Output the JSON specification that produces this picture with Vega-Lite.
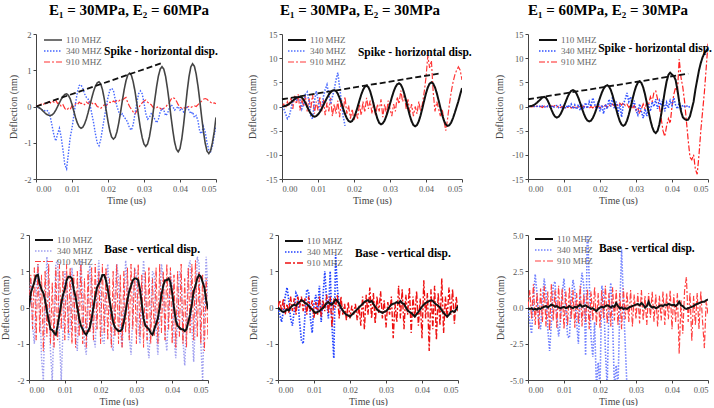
{
"$schema": "https://vega.github.io/schema/vega-lite/v6.json",
"padding": {"left": 0, "top": 3, "right": 0, "bottom": 0},
"config": {
  "font": "Liberation Serif",
  "view": {"stroke": null},
  "axis": {"grid": false, "labelFont": "Liberation Serif", "labelFontSize": 8.5, "labelColor": "#555", "titleFont": "Liberation Serif", "titleFontSize": 10, "titleFontWeight": "normal", "titleColor": "#444", "domainColor": "#444", "tickColor": "#444", "tickSize": 3, "labelPadding": 2},
  "axisX": {"titlePadding": 2.5},
  "legend": {"orient": "top-left", "symbolType": "M-1.8,0H1.8", "symbolSize": 100, "labelFont": "Liberation Serif", "labelFontSize": 9, "labelColor": "#666", "rowPadding": -1.5, "padding": 0, "labelOffset": 7},
  "title": {"font": "Liberation Serif", "fontSize": 15, "fontWeight": "bold", "color": "#000", "offset": 12}
},
"datasets": {
"trend": [{"p":"A","t":0,"v":0},{"p":"A","t":0.035,"v":1.2},{"p":"B","t":0,"v":1.5},{"p":"B","t":0.0435,"v":6.8},{"p":"C","t":0,"v":1.5},{"p":"C","t":0.0445,"v":6.8}],
"notes": [{"p":"A","t":0.0347,"v":1.5,"label":"Spike - horizontal disp."},{"p":"B","t":0.0369,"v":11.1,"label":"Spike - horizontal disp."},{"p":"C","t":0.0353,"v":11.9,"label":"Spike - horizontal disp."},{"p":"D","t":0.0344,"v":1.58,"label":"Base - vertical disp."},{"p":"E","t":0.0347,"v":1.47,"label":"Base - vertical disp."},{"p":"F","t":0.033,"v":4.03,"label":"Base - vertical disp."}],
"A": [
{"t":0,"f110":0,"f340":0,"f910":0},
{"t":0.0005,"f110":-0.01,"f340":-0.02,"f910":0.02},
{"t":0.001,"f110":-0.04,"f340":-0.05,"f910":0.04},
{"t":0.0015,"f110":-0.08,"f340":-0.08,"f910":0.07},
{"t":0.002,"f110":-0.13,"f340":-0.1,"f910":0.05},
{"t":0.0025,"f110":-0.18,"f340":-0.12,"f910":0.1},
{"t":0.003,"f110":-0.22,"f340":-0.1,"f910":0.08},
{"t":0.0035,"f110":-0.24,"f340":-0.15,"f910":0.13},
{"t":0.004,"f110":-0.25,"f340":-0.3,"f910":0.1},
{"t":0.0045,"f110":-0.23,"f340":-0.55,"f910":0.15},
{"t":0.005,"f110":-0.18,"f340":-0.8,"f910":0.12},
{"t":0.0055,"f110":-0.1,"f340":-0.95,"f910":0.17},
{"t":0.006,"f110":0,"f340":-0.75,"f910":0.08},
{"t":0.0065,"f110":0.1,"f340":-0.6,"f910":0.1},
{"t":0.007,"f110":0.2,"f340":-0.85,"f910":0},
{"t":0.0075,"f110":0.28,"f340":-1.2,"f910":0.05},
{"t":0.008,"f110":0.33,"f340":-1.6,"f910":-0.05},
{"t":0.0085,"f110":0.35,"f340":-1.72,"f910":-0.1},
{"t":0.009,"f110":0.31,"f340":-1.3,"f910":-0.05},
{"t":0.0095,"f110":0.21,"f340":-0.85,"f910":-0.08},
{"t":0.01,"f110":0.06,"f340":-0.6,"f910":0.02},
{"t":0.0105,"f110":-0.13,"f340":-0.25,"f910":0},
{"t":0.011,"f110":-0.31,"f340":0.1,"f910":0.08},
{"t":0.0115,"f110":-0.46,"f340":0.4,"f910":0.05},
{"t":0.012,"f110":-0.56,"f340":0.58,"f910":0.12},
{"t":0.0125,"f110":-0.6,"f340":0.6,"f910":0.08},
{"t":0.013,"f110":-0.57,"f340":0.5,"f910":0.1},
{"t":0.0135,"f110":-0.48,"f340":0.35,"f910":0.05},
{"t":0.014,"f110":-0.34,"f340":0.25,"f910":0.12},
{"t":0.0145,"f110":-0.16,"f340":0.2,"f910":0.08},
{"t":0.015,"f110":0.04,"f340":0.05,"f910":0.15},
{"t":0.0155,"f110":0.24,"f340":-0.2,"f910":0.1},
{"t":0.016,"f110":0.42,"f340":-0.45,"f910":0.05},
{"t":0.0165,"f110":0.56,"f340":-0.75,"f910":0.08},
{"t":0.017,"f110":0.65,"f340":-1,"f910":0},
{"t":0.0175,"f110":0.68,"f340":-1.08,"f910":-0.02},
{"t":0.018,"f110":0.62,"f340":-0.9,"f910":-0.05},
{"t":0.0185,"f110":0.45,"f340":-0.6,"f910":0},
{"t":0.019,"f110":0.19,"f340":-0.3,"f910":0.05},
{"t":0.0195,"f110":-0.11,"f340":0,"f910":0.02},
{"t":0.02,"f110":-0.41,"f340":0.25,"f910":0.08},
{"t":0.0205,"f110":-0.67,"f340":0.45,"f910":0.12},
{"t":0.021,"f110":-0.84,"f340":0.5,"f910":0.1},
{"t":0.0215,"f110":-0.9,"f340":0.45,"f910":0.15},
{"t":0.022,"f110":-0.85,"f340":0.2,"f910":0.12},
{"t":0.0225,"f110":-0.69,"f340":0,"f910":0.18},
{"t":0.023,"f110":-0.45,"f340":-0.15,"f910":0.15},
{"t":0.0235,"f110":-0.15,"f340":-0.25,"f910":0.2},
{"t":0.024,"f110":0.17,"f340":-0.2,"f910":0.18},
{"t":0.0245,"f110":0.47,"f340":-0.3,"f910":0.22},
{"t":0.025,"f110":0.71,"f340":-0.35,"f910":0.25},
{"t":0.0255,"f110":0.87,"f340":-0.45,"f910":0.1},
{"t":0.026,"f110":0.92,"f340":-0.6,"f910":0},
{"t":0.0265,"f110":0.86,"f340":-0.65,"f910":-0.08},
{"t":0.027,"f110":0.68,"f340":-0.5,"f910":-0.15},
{"t":0.0275,"f110":0.42,"f340":-0.2,"f910":-0.2},
{"t":0.028,"f110":0.09,"f340":0.1,"f910":-0.12},
{"t":0.0285,"f110":-0.27,"f340":0.35,"f910":-0.05},
{"t":0.029,"f110":-0.6,"f340":0.43,"f910":0.05},
{"t":0.0295,"f110":-0.86,"f340":0.35,"f910":0.1},
{"t":0.03,"f110":-1.04,"f340":0.1,"f910":0.15},
{"t":0.0305,"f110":-1.1,"f340":-0.2,"f910":0.18},
{"t":0.031,"f110":-1.03,"f340":-0.35,"f910":0.12},
{"t":0.0315,"f110":-0.84,"f340":-0.3,"f910":0.08},
{"t":0.032,"f110":-0.55,"f340":-0.2,"f910":0.05},
{"t":0.0325,"f110":-0.19,"f340":-0.25,"f910":-0.02},
{"t":0.033,"f110":0.19,"f340":-0.35,"f910":-0.05},
{"t":0.0335,"f110":0.55,"f340":-0.45,"f910":-0.03},
{"t":0.034,"f110":0.84,"f340":-0.35,"f910":0},
{"t":0.0345,"f110":1.03,"f340":-0.15,"f910":-0.05},
{"t":0.035,"f110":1.1,"f340":-0.05,"f910":-0.08},
{"t":0.0355,"f110":1.03,"f340":-0.1,"f910":-0.05},
{"t":0.036,"f110":0.83,"f340":-0.25,"f910":-0.02},
{"t":0.0365,"f110":0.51,"f340":-0.2,"f910":0.05},
{"t":0.037,"f110":0.13,"f340":-0.05,"f910":0.1},
{"t":0.0375,"f110":-0.28,"f340":0.05,"f910":0.2},
{"t":0.038,"f110":-0.66,"f340":0,"f910":0.25},
{"t":0.0385,"f110":-0.98,"f340":-0.1,"f910":0.22},
{"t":0.039,"f110":-1.18,"f340":-0.05,"f910":0.15},
{"t":0.0395,"f110":-1.25,"f340":0,"f910":0.05},
{"t":0.04,"f110":-1.16,"f340":-0.1,"f910":-0.02},
{"t":0.0405,"f110":-0.89,"f340":-0.05,"f910":-0.05},
{"t":0.041,"f110":-0.5,"f340":-0.15,"f910":-0.03},
{"t":0.0415,"f110":-0.04,"f340":-0.1,"f910":-0.05},
{"t":0.042,"f110":0.43,"f340":-0.02,"f910":-0.02},
{"t":0.0425,"f110":0.82,"f340":-0.1,"f910":0},
{"t":0.043,"f110":1.09,"f340":-0.2,"f910":-0.03},
{"t":0.0435,"f110":1.18,"f340":-0.15,"f910":0},
{"t":0.044,"f110":1.11,"f340":-0.3,"f910":0.02},
{"t":0.0445,"f110":0.89,"f340":-0.25,"f910":0},
{"t":0.045,"f110":0.56,"f340":-0.4,"f910":0.05},
{"t":0.0455,"f110":0.16,"f340":-0.7,"f910":0.1},
{"t":0.046,"f110":-0.28,"f340":-0.75,"f910":0.15},
{"t":0.0465,"f110":-0.68,"f340":-0.55,"f910":0.2},
{"t":0.047,"f110":-1.01,"f340":-0.7,"f910":0.22},
{"t":0.0475,"f110":-1.23,"f340":-1,"f910":0.2},
{"t":0.048,"f110":-1.3,"f340":-1.2,"f910":0.15},
{"t":0.0485,"f110":-1.22,"f340":-1.25,"f910":0.12},
{"t":0.049,"f110":-1,"f340":-1.1,"f910":0.08},
{"t":0.0495,"f110":-0.7,"f340":-0.8,"f910":0.1},
{"t":0.05,"f110":-0.3,"f340":-0.55,"f910":0.08}
],
"B": [
{"t":0,"f110":0,"f340":0,"f910":0},
{"t":0.0005,"f110":0.05,"f340":-0.5,"f910":0.5},
{"t":0.001,"f110":0.15,"f340":-1.5,"f910":-0.3},
{"t":0.0015,"f110":0.3,"f340":-2.5,"f910":1},
{"t":0.002,"f110":0.55,"f340":-2,"f910":0.2},
{"t":0.0025,"f110":0.85,"f340":-0.5,"f910":1.8},
{"t":0.003,"f110":1.2,"f340":1,"f910":-0.5},
{"t":0.0035,"f110":1.5,"f340":1.8,"f910":2.2},
{"t":0.004,"f110":1.8,"f340":1.2,"f910":0.5},
{"t":0.0045,"f110":1.95,"f340":2.2,"f910":2.5},
{"t":0.005,"f110":2,"f340":1.5,"f910":-0.8},
{"t":0.0055,"f110":1.84,"f340":-0.5,"f910":1.5},
{"t":0.006,"f110":1.4,"f340":0.5,"f910":0},
{"t":0.0065,"f110":0.74,"f340":2.5,"f910":2.2},
{"t":0.007,"f110":-0.05,"f340":3,"f910":-1},
{"t":0.0075,"f110":-0.84,"f340":1,"f910":1.8},
{"t":0.008,"f110":-1.5,"f340":-2,"f910":-0.5},
{"t":0.0085,"f110":-1.94,"f340":-2.6,"f910":2.5},
{"t":0.009,"f110":-2.1,"f340":1,"f910":-1.5},
{"t":0.0095,"f110":-1.99,"f340":3.2,"f910":1},
{"t":0.01,"f110":-1.66,"f340":1.5,"f910":-0.8},
{"t":0.0105,"f110":-1.15,"f340":-1,"f910":2},
{"t":0.011,"f110":-0.49,"f340":-0.5,"f910":-1.2},
{"t":0.0115,"f110":0.26,"f340":2,"f910":1.5},
{"t":0.012,"f110":1.04,"f340":3.5,"f910":-1.8},
{"t":0.0125,"f110":1.79,"f340":4.5,"f910":0.8},
{"t":0.013,"f110":2.45,"f340":2.5,"f910":-1},
{"t":0.0135,"f110":2.96,"f340":0.5,"f910":1.8},
{"t":0.014,"f110":3.29,"f340":2,"f910":-2},
{"t":0.0145,"f110":3.4,"f340":3.5,"f910":0.5},
{"t":0.015,"f110":3.2,"f340":5.5,"f910":-1.5},
{"t":0.0155,"f110":2.63,"f340":7,"f910":1.2},
{"t":0.016,"f110":1.75,"f340":4,"f910":-2.2},
{"t":0.0165,"f110":0.67,"f340":1,"f910":1.5},
{"t":0.017,"f110":-0.47,"f340":-2,"f910":-1},
{"t":0.0175,"f110":-1.55,"f340":-4,"f910":2},
{"t":0.018,"f110":-2.43,"f910":-1.5},
{"t":0.0185,"f110":-3,"f910":0.2},
{"t":0.019,"f110":-3.2,"f910":-2.5},
{"t":0.0195,"f110":-2.98,"f910":-0.5},
{"t":0.02,"f110":-2.32,"f910":-3},
{"t":0.0205,"f110":-1.33,"f910":-1},
{"t":0.021,"f110":-0.1,"f910":-2.5},
{"t":0.0215,"f110":1.2,"f910":0.5},
{"t":0.022,"f110":2.43,"f910":-1.8},
{"t":0.0225,"f110":3.42,"f910":1},
{"t":0.023,"f110":4.08,"f910":-1.2},
{"t":0.0235,"f110":4.3,"f910":1.8},
{"t":0.024,"f110":4,"f910":-0.5},
{"t":0.0245,"f110":3.13,"f910":1.2},
{"t":0.025,"f110":1.83,"f910":-1.5},
{"t":0.0255,"f110":0.3,"f910":0.8},
{"t":0.026,"f110":-1.23,"f910":-2},
{"t":0.0265,"f110":-2.53,"f910":0.5},
{"t":0.027,"f110":-3.4,"f910":-1},
{"t":0.0275,"f110":-3.7,"f910":1.5},
{"t":0.028,"f110":-3.49,"f910":-2.2},
{"t":0.0285,"f110":-2.89,"f910":0.5},
{"t":0.029,"f110":-1.95,"f910":-1.5},
{"t":0.0295,"f110":-0.76,"f910":1.2},
{"t":0.03,"f110":0.55,"f910":-0.5},
{"t":0.0305,"f110":1.86,"f910":-2},
{"t":0.031,"f110":3.05,"f910":0.5},
{"t":0.0315,"f110":3.99,"f910":-1},
{"t":0.032,"f110":4.59,"f910":2},
{"t":0.0325,"f110":4.8,"f910":0.5},
{"t":0.033,"f110":4.53,"f910":3.3},
{"t":0.0335,"f110":3.76,"f910":1},
{"t":0.034,"f110":2.58,"f910":2.5},
{"t":0.0345,"f110":1.12,"f910":-0.5},
{"t":0.035,"f110":-0.42,"f910":1.5},
{"t":0.0355,"f110":-1.88,"f910":-1.5},
{"t":0.036,"f110":-3.06,"f910":0.5},
{"t":0.0365,"f110":-3.83,"f910":-2},
{"t":0.037,"f110":-4.1,"f910":0},
{"t":0.0375,"f110":-3.83,"f910":-1.5},
{"t":0.038,"f110":-3.04,"f910":1},
{"t":0.0385,"f110":-1.83,"f910":-1},
{"t":0.039,"f110":-0.34,"f910":0.5},
{"t":0.0395,"f110":1.24,"f910":3},
{"t":0.04,"f110":2.73,"f910":6},
{"t":0.0405,"f110":3.94,"f910":10.5},
{"t":0.041,"f110":4.73,"f910":8},
{"t":0.0415,"f110":5,"f910":9.5},
{"t":0.042,"f110":4.73,"f910":3},
{"t":0.0425,"f110":3.95,"f910":-1},
{"t":0.043,"f110":2.75,"f910":1},
{"t":0.0435,"f110":1.28,"f910":-0.5},
{"t":0.044,"f110":-0.28,"f910":-2},
{"t":0.0445,"f110":-1.75,"f910":-0.5},
{"t":0.045,"f110":-2.95,"f910":-3},
{"t":0.0455,"f110":-3.73,"f910":-5},
{"t":0.046,"f110":-4,"f910":-2.5},
{"t":0.0465,"f110":-3.85,"f910":0.5},
{"t":0.047,"f110":-3.3,"f910":3},
{"t":0.0475,"f110":-2.4,"f910":5},
{"t":0.048,"f110":-1.3,"f910":6.5},
{"t":0.0485,"f110":-0.1,"f910":7.5},
{"t":0.049,"f110":1.1,"f910":8.2},
{"t":0.0495,"f110":2.5,"f910":7.5},
{"t":0.05,"f110":3.8,"f910":5.5}
],
"C": [
{"t":0,"f110":0,"f340":0,"f910":0},
{"t":0.0005,"f110":0.05,"f340":0,"f910":0},
{"t":0.001,"f110":0.1,"f340":0.1,"f910":-0.1},
{"t":0.0015,"f110":0.25,"f340":-0.1,"f910":0},
{"t":0.002,"f110":0.5,"f340":0.1,"f910":-0.1},
{"t":0.0025,"f110":0.8,"f340":0,"f910":0.1},
{"t":0.003,"f110":1.15,"f340":0.2,"f910":-0.1},
{"t":0.0035,"f110":1.5,"f340":-0.1,"f910":0},
{"t":0.004,"f110":1.85,"f340":0.1,"f910":-0.2},
{"t":0.0045,"f110":2,"f340":0,"f910":0.1},
{"t":0.005,"f110":1.79,"f340":-0.2,"f910":-0.1},
{"t":0.0055,"f110":1.19,"f340":0.1,"f910":0},
{"t":0.006,"f110":0.33,"f340":-0.1,"f910":-0.2},
{"t":0.0065,"f110":-0.63,"f340":0.2,"f910":0.1},
{"t":0.007,"f110":-1.49,"f340":-0.3,"f910":0},
{"t":0.0075,"f110":-2.09,"f340":0.1,"f910":0.2},
{"t":0.008,"f110":-2.3,"f340":0.2,"f910":-0.1},
{"t":0.0085,"f110":-2.13,"f340":-0.2,"f910":0.1},
{"t":0.009,"f110":-1.63,"f340":0.3,"f910":-0.2},
{"t":0.0095,"f110":-0.88,"f340":-0.3,"f910":0},
{"t":0.01,"f110":0.05,"f340":0.2,"f910":-0.3},
{"t":0.0105,"f110":1.05,"f340":-0.4,"f910":-0.1},
{"t":0.011,"f110":1.98,"f340":0.3,"f910":-0.2},
{"t":0.0115,"f110":2.73,"f340":-0.2,"f910":0},
{"t":0.012,"f110":3.23,"f340":0.5,"f910":-0.3},
{"t":0.0125,"f110":3.4,"f340":-0.5,"f910":-0.1},
{"t":0.013,"f110":3.21,"f340":0.3,"f910":-0.2},
{"t":0.0135,"f110":2.64,"f340":-0.6,"f910":0.1},
{"t":0.014,"f110":1.78,"f340":0.4,"f910":-0.3},
{"t":0.0145,"f110":0.72,"f340":-0.8,"f910":0},
{"t":0.015,"f110":-0.42,"f340":0.2,"f910":-0.2},
{"t":0.0155,"f110":-1.48,"f340":-0.5,"f910":0.1},
{"t":0.016,"f110":-2.34,"f340":0.8,"f910":-0.3},
{"t":0.0165,"f110":-2.91,"f340":-0.4,"f910":-0.1},
{"t":0.017,"f110":-3.1,"f340":1,"f910":-0.4},
{"t":0.0175,"f110":-2.92,"f340":0,"f910":0},
{"t":0.018,"f110":-2.38,"f340":1.8,"f910":-0.3},
{"t":0.0185,"f110":-1.55,"f340":0.5,"f910":0.2},
{"t":0.019,"f110":-0.51,"f340":-0.5,"f910":-0.4},
{"t":0.0195,"f110":0.65,"f340":1,"f910":0.1},
{"t":0.02,"f110":1.81,"f340":-1,"f910":-0.3},
{"t":0.0205,"f110":2.85,"f340":0.3,"f910":0.2},
{"t":0.021,"f110":3.68,"f340":-1.5,"f910":-0.2},
{"t":0.0215,"f110":4.22,"f340":0.5,"f910":0.3},
{"t":0.022,"f110":4.4,"f340":-0.5,"f910":-0.2},
{"t":0.0225,"f110":4.15,"f340":1.5,"f910":0.4},
{"t":0.023,"f110":3.42,"f340":0,"f910":0},
{"t":0.0235,"f110":2.3,"f340":2,"f910":0.5},
{"t":0.024,"f110":0.93,"f340":-0.5,"f910":0.1},
{"t":0.0245,"f110":-0.53,"f340":1,"f910":0.6},
{"t":0.025,"f110":-1.9,"f340":-1.5,"f910":0.2},
{"t":0.0255,"f110":-3.02,"f340":0.5,"f910":0.7},
{"t":0.026,"f110":-3.75,"f340":-2.2,"f910":0.3},
{"t":0.0265,"f110":-4,"f340":0.5,"f910":0.8},
{"t":0.027,"f110":-3.72,"f340":1.5,"f910":0.2},
{"t":0.0275,"f110":-2.92,"f340":2.8,"f910":0.5},
{"t":0.028,"f110":-1.7,"f340":1,"f910":-0.2},
{"t":0.0285,"f110":-0.2,"f340":2,"f910":0.3},
{"t":0.029,"f110":1.4,"f340":0,"f910":-0.5},
{"t":0.0295,"f110":2.9,"f340":1.2,"f910":0.2},
{"t":0.03,"f110":4.12,"f340":-0.8,"f910":-0.8},
{"t":0.0305,"f110":4.92,"f340":-1.7,"f910":-0.2},
{"t":0.031,"f110":5.2,"f340":0.5,"f910":-1.5},
{"t":0.0315,"f110":4.88,"f340":-1,"f910":-0.5},
{"t":0.032,"f110":3.95,"f340":-2.4,"f910":0.5},
{"t":0.0325,"f110":2.53,"f340":-0.5,"f910":-0.5},
{"t":0.033,"f110":0.78,"f340":-2,"f910":1},
{"t":0.0335,"f110":-1.08,"f340":0.5,"f910":0.5},
{"t":0.034,"f110":-2.83,"f340":-1,"f910":2},
{"t":0.0345,"f110":-4.25,"f340":1,"f910":1},
{"t":0.035,"f110":-5.18,"f340":0,"f910":3},
{"t":0.0355,"f110":-5.5,"f340":1.5,"f910":3.2},
{"t":0.036,"f110":-5.03,"f340":-0.5,"f910":1.5},
{"t":0.0365,"f110":-3.67,"f340":1.2,"f910":0},
{"t":0.037,"f110":-1.64,"f340":0.2,"f910":-2.5},
{"t":0.0375,"f110":0.75,"f340":1.5,"f910":-5},
{"t":0.038,"f110":3.14,"f340":-1,"f910":-6.2},
{"t":0.0385,"f110":5.17,"f340":0.8,"f910":-4},
{"t":0.039,"f110":6.53,"f340":-0.3,"f910":-2.5},
{"t":0.0395,"f110":7,"f340":1.2,"f910":-3.5},
{"t":0.04,"f110":6.6,"f340":0.2,"f910":0},
{"t":0.0405,"f110":6.3,"f340":1.8,"f910":2.5},
{"t":0.041,"f110":5.5,"f340":0.3,"f910":4},
{"t":0.0415,"f110":3.5,"f340":-0.5,"f910":3},
{"t":0.042,"f110":1,"f340":0.8,"f910":9.8},
{"t":0.0425,"f110":-1,"f340":-0.5,"f910":6},
{"t":0.043,"f110":-2.2,"f340":0.3,"f910":4},
{"t":0.0435,"f110":-2.6,"f340":0,"f910":1},
{"t":0.044,"f110":-2.8,"f340":0.2,"f910":-3},
{"t":0.0445,"f110":-2.7,"f340":-0.2,"f910":-7},
{"t":0.045,"f110":-2,"f340":0,"f910":-10.5},
{"t":0.0455,"f110":-0.5,"f910":-11},
{"t":0.046,"f110":1,"f910":-10},
{"t":0.0465,"f110":3.5,"f910":-13},
{"t":0.047,"f110":5.5,"f910":-14},
{"t":0.0475,"f110":7.5,"f910":-10},
{"t":0.048,"f110":9,"f910":-5},
{"t":0.0485,"f110":10.2,"f910":-1},
{"t":0.049,"f110":11,"f910":3},
{"t":0.0495,"f110":11.5,"f910":8},
{"t":0.05,"f110":12,"f910":13}
],
"D": [
{"t":0,"f110":0,"f340":0,"f910":0},
{"t":0.0005,"f110":0.4,"f340":0.8,"f910":0.9},
{"t":0.001,"f110":0.55,"f340":-0.5,"f910":-0.6},
{"t":0.0015,"f110":0.7,"f340":-1,"f910":1.1},
{"t":0.002,"f110":0.88,"f340":0.4,"f910":-0.9},
{"t":0.0025,"f110":0.9,"f340":1.2,"f910":1.2},
{"t":0.003,"f110":0.65,"f340":0.3,"f910":-0.7},
{"t":0.0035,"f110":0.5,"f340":-1.4,"f910":0.9},
{"t":0.004,"f110":0.4,"f340":-2,"f910":-1.2},
{"t":0.0045,"f110":0.2,"f340":0,"f910":1},
{"t":0.005,"f110":-0.1,"f340":1.4,"f910":-0.8},
{"t":0.0055,"f110":-0.35,"f340":0.6,"f910":1.2},
{"t":0.006,"f110":-0.6,"f340":-1.2,"f910":-1},
{"t":0.0065,"f110":-0.62,"f340":-2,"f910":0.7},
{"t":0.007,"f110":-0.7,"f340":-0.4,"f910":-1.1},
{"t":0.0075,"f110":-0.75,"f340":1.2,"f910":1.1},
{"t":0.008,"f110":-0.5,"f340":1.3,"f910":-0.9},
{"t":0.0085,"f110":-0.2,"f340":-0.8,"f910":1.2},
{"t":0.009,"f110":0.1,"f340":-2,"f910":-0.6},
{"t":0.0095,"f110":0.35,"f340":-0.6,"f910":1},
{"t":0.01,"f110":0.5,"f340":1,"f910":-0.9},
{"t":0.0105,"f110":0.75,"f340":0.9,"f910":1.2},
{"t":0.011,"f110":0.85,"f340":-0.9,"f910":-0.7},
{"t":0.0115,"f110":0.85,"f340":-0.6,"f910":1.1},
{"t":0.012,"f110":0.8,"f340":1.1,"f910":-1},
{"t":0.0125,"f110":0.5,"f340":0.4,"f910":0.9},
{"t":0.013,"f110":0.3,"f340":-0.8,"f910":-1.1},
{"t":0.0135,"f110":0,"f340":-1.2,"f910":1},
{"t":0.014,"f110":-0.3,"f340":0.5,"f910":-0.8},
{"t":0.0145,"f110":-0.5,"f340":1.3,"f910":1.2},
{"t":0.015,"f110":-0.6,"f340":0.2,"f910":-1},
{"t":0.0155,"f110":-0.7,"f340":-1,"f910":0.8},
{"t":0.016,"f110":-0.75,"f340":-1.3,"f910":-1.1},
{"t":0.0165,"f110":-0.65,"f340":0.3,"f910":1},
{"t":0.017,"f110":-0.55,"f340":1.2,"f910":-0.7},
{"t":0.0175,"f110":-0.3,"f340":0.4,"f910":1.1},
{"t":0.018,"f110":0,"f340":-0.8,"f910":-0.9},
{"t":0.0185,"f110":0.3,"f340":-1.1,"f910":1.2},
{"t":0.019,"f110":0.55,"f340":0.5,"f910":-0.6},
{"t":0.0195,"f110":0.65,"f340":1.3,"f910":1},
{"t":0.02,"f110":0.75,"f340":0.3,"f910":-1},
{"t":0.0205,"f110":0.9,"f340":-0.9,"f910":1.2},
{"t":0.021,"f110":0.9,"f340":-1,"f910":-0.7},
{"t":0.0215,"f110":0.75,"f340":0.6,"f910":1.1},
{"t":0.022,"f110":0.5,"f340":1.2,"f910":-0.9},
{"t":0.0225,"f110":0.2,"f340":0.2,"f910":0.8},
{"t":0.023,"f110":-0.1,"f340":-1,"f910":-1.1},
{"t":0.0235,"f110":-0.4,"f340":-1.2,"f910":1},
{"t":0.024,"f110":-0.55,"f340":0.2,"f910":-0.8},
{"t":0.0245,"f110":-0.6,"f340":1.2,"f910":1.2},
{"t":0.025,"f110":-0.65,"f340":0.8,"f910":-1},
{"t":0.0255,"f110":-0.65,"f340":-0.6,"f910":0.9},
{"t":0.026,"f110":-0.6,"f340":-1.1,"f910":-1.1},
{"t":0.0265,"f110":-0.4,"f340":0,"f910":1},
{"t":0.027,"f110":-0.1,"f340":1.3,"f910":-0.7},
{"t":0.0275,"f110":0.2,"f340":0.7,"f910":1.1},
{"t":0.028,"f110":0.45,"f340":-0.8,"f910":-0.9},
{"t":0.0285,"f110":0.6,"f340":-1.3,"f910":1.2},
{"t":0.029,"f110":0.75,"f340":-0.2,"f910":-0.6},
{"t":0.0295,"f110":0.8,"f340":1.1,"f910":1.1},
{"t":0.03,"f110":0.8,"f340":0.9,"f910":-1},
{"t":0.0305,"f110":0.75,"f340":-0.5,"f910":1.2},
{"t":0.031,"f110":0.5,"f340":-1,"f910":-0.8},
{"t":0.0315,"f110":0.1,"f340":0.2,"f910":0.9},
{"t":0.032,"f110":-0.3,"f340":1.3,"f910":-1.1},
{"t":0.0325,"f110":-0.5,"f340":0.6,"f910":1},
{"t":0.033,"f110":-0.55,"f340":-0.9,"f910":-0.9},
{"t":0.0335,"f110":-0.6,"f340":-1.4,"f910":1.1},
{"t":0.034,"f110":-0.7,"f340":-0.3,"f910":-1},
{"t":0.0345,"f110":-0.75,"f340":1,"f910":0.8},
{"t":0.035,"f110":-0.6,"f340":0.9,"f910":-0.8},
{"t":0.0355,"f110":-0.45,"f340":-0.6,"f910":1.1},
{"t":0.036,"f110":-0.3,"f340":-1.3,"f910":-1},
{"t":0.0365,"f110":0,"f340":-0.2,"f910":1.2},
{"t":0.037,"f110":0.35,"f340":1.2,"f910":-0.7},
{"t":0.0375,"f110":0.6,"f340":0.8,"f910":1},
{"t":0.038,"f110":0.75,"f340":-0.7,"f910":-0.9},
{"t":0.0385,"f110":0.75,"f340":-1.2,"f910":1.2},
{"t":0.039,"f110":0.8,"f340":0,"f910":-0.6},
{"t":0.0395,"f110":0.7,"f340":1,"f910":1.1},
{"t":0.04,"f110":0.4,"f340":0.6,"f910":-1},
{"t":0.0405,"f110":0,"f340":-0.8,"f910":0.9},
{"t":0.041,"f110":-0.35,"f340":-1.4,"f910":-1.1},
{"t":0.0415,"f110":-0.5,"f340":-0.3,"f910":1},
{"t":0.042,"f110":-0.55,"f340":1,"f910":-0.8},
{"t":0.0425,"f110":-0.6,"f340":0.9,"f910":1.2},
{"t":0.043,"f110":-0.6,"f340":-0.9,"f910":-1},
{"t":0.0435,"f110":-0.65,"f340":-1.6,"f910":0.8},
{"t":0.044,"f110":-0.6,"f340":-0.4,"f910":-1.1},
{"t":0.0445,"f110":-0.4,"f340":1.1,"f910":1.1},
{"t":0.045,"f110":-0.2,"f340":1.3,"f910":-0.7},
{"t":0.0455,"f110":0.1,"f340":-0.5,"f910":1.2},
{"t":0.046,"f110":0.45,"f340":-1.5,"f910":-0.9},
{"t":0.0465,"f110":0.6,"f340":-0.3,"f910":1.3},
{"t":0.047,"f110":0.8,"f340":1.4,"f910":-0.8},
{"t":0.0475,"f110":0.9,"f340":1.2,"f910":1},
{"t":0.048,"f110":0.85,"f340":-1,"f910":-1},
{"t":0.0485,"f110":0.7,"f340":-2,"f910":0.9},
{"t":0.049,"f110":0.55,"f340":0,"f910":-1.2},
{"t":0.0495,"f110":0.2,"f340":1.4,"f910":0.8},
{"t":0.05,"f110":-0.05,"f340":0.3,"f910":-0.9}
],
"E": [
{"t":0,"f110":0,"f340":0,"f910":0},
{"t":0.0005,"f110":-0.05,"f340":-0.2,"f910":0.2},
{"t":0.001,"f110":-0.1,"f340":-0.4,"f910":-0.1},
{"t":0.0015,"f110":-0.12,"f340":-0.1,"f910":0.25},
{"t":0.002,"f110":-0.1,"f340":0.3,"f910":-0.2},
{"t":0.0025,"f110":-0.05,"f340":0.55,"f910":0.1},
{"t":0.003,"f110":-0.08,"f340":0.2,"f910":-0.15},
{"t":0.0035,"f110":0,"f340":-0.3,"f910":0.3},
{"t":0.004,"f110":0.05,"f340":-0.5,"f910":-0.1},
{"t":0.0045,"f110":0.08,"f340":-0.1,"f910":0.25},
{"t":0.005,"f110":0.05,"f340":0.4,"f910":-0.2},
{"t":0.0055,"f110":0.12,"f340":0.3,"f910":0.3},
{"t":0.006,"f110":0.15,"f340":-0.4,"f910":0},
{"t":0.0065,"f110":0.2,"f340":-0.9,"f910":0.3},
{"t":0.007,"f110":0.18,"f340":-1,"f910":-0.1},
{"t":0.0075,"f110":0.12,"f340":-0.2,"f910":0.25},
{"t":0.008,"f110":0.1,"f340":0.5,"f910":-0.2},
{"t":0.0085,"f110":0.05,"f340":0.45,"f910":0.3},
{"t":0.009,"f110":-0.02,"f340":-0.3,"f910":-0.1},
{"t":0.0095,"f110":-0.05,"f340":-0.7,"f910":0.2},
{"t":0.01,"f110":-0.12,"f340":0.1,"f910":-0.3},
{"t":0.0105,"f110":-0.15,"f340":0.35,"f910":0.15},
{"t":0.011,"f110":-0.12,"f340":-0.1,"f910":-0.2},
{"t":0.0115,"f110":-0.1,"f340":0.6,"f910":0.3},
{"t":0.012,"f110":-0.05,"f340":-0.4,"f910":-0.25},
{"t":0.0125,"f110":-0.02,"f340":0.3,"f910":0.2},
{"t":0.013,"f110":0.05,"f340":1,"f910":-0.1},
{"t":0.0135,"f110":0.12,"f340":0.2,"f910":0.35},
{"t":0.014,"f110":0.15,"f340":-0.3,"f910":-0.15},
{"t":0.0145,"f110":0.1,"f340":1,"f910":0.3},
{"t":0.015,"f110":0.08,"f340":-0.5,"f910":-0.55},
{"t":0.0155,"f110":0.15,"f340":-1.4,"f910":0.25},
{"t":0.016,"f110":0.22,"f340":1.45,"f910":0},
{"t":0.0165,"f110":0.18,"f340":0.5,"f910":0.35},
{"t":0.017,"f110":0.1,"f340":0.1,"f910":-0.3},
{"t":0.0175,"f110":0,"f340":-0.1,"f910":0.3},
{"t":0.018,"f110":-0.08,"f910":-0.2},
{"t":0.0185,"f110":-0.15,"f910":0.1},
{"t":0.019,"f110":-0.2,"f910":-0.35},
{"t":0.0195,"f110":-0.22,"f910":0.15},
{"t":0.02,"f110":-0.25,"f910":-0.3},
{"t":0.0205,"f110":-0.2,"f910":0.05},
{"t":0.021,"f110":-0.15,"f910":-0.2},
{"t":0.0215,"f110":-0.1,"f910":0.1},
{"t":0.022,"f110":-0.05,"f910":-0.35},
{"t":0.0225,"f110":0,"f910":0.05},
{"t":0.023,"f110":0.05,"f910":-0.5},
{"t":0.0235,"f110":0.1,"f910":0.3},
{"t":0.024,"f110":0.15,"f910":-0.6},
{"t":0.0245,"f110":0.18,"f910":0.35},
{"t":0.025,"f110":0.2,"f910":-0.2},
{"t":0.0255,"f110":0.15,"f910":0.55},
{"t":0.026,"f110":0.18,"f910":-0.3},
{"t":0.0265,"f110":0.1,"f910":0.4},
{"t":0.027,"f110":0.02,"f910":-0.45},
{"t":0.0275,"f110":-0.05,"f910":0.3},
{"t":0.028,"f110":-0.1,"f910":-0.15},
{"t":0.0285,"f110":-0.12,"f910":0.45},
{"t":0.029,"f110":-0.15,"f910":-0.3},
{"t":0.0295,"f110":-0.12,"f910":0.2},
{"t":0.03,"f110":-0.1,"f910":-0.55},
{"t":0.0305,"f110":-0.05,"f910":0.15},
{"t":0.031,"f110":0.02,"f910":-0.2},
{"t":0.0315,"f110":0.08,"f910":0.3},
{"t":0.032,"f110":0.1,"f910":-0.85},
{"t":0.0325,"f110":0.12,"f910":0.1},
{"t":0.033,"f110":0.15,"f910":-0.4},
{"t":0.0335,"f110":0.12,"f910":0.6},
{"t":0.034,"f110":0.18,"f910":-0.3},
{"t":0.0345,"f110":0.12,"f910":0.5},
{"t":0.035,"f110":0.1,"f910":-0.6},
{"t":0.0355,"f110":0,"f910":0.35},
{"t":0.036,"f110":-0.08,"f910":-0.2},
{"t":0.0365,"f110":-0.12,"f910":0.55},
{"t":0.037,"f110":-0.15,"f910":-0.7},
{"t":0.0375,"f110":-0.2,"f910":0.3},
{"t":0.038,"f110":-0.25,"f910":-0.3},
{"t":0.0385,"f110":-0.18,"f910":0.45},
{"t":0.039,"f110":-0.12,"f910":-0.5},
{"t":0.0395,"f110":-0.05,"f910":0.25},
{"t":0.04,"f110":0.02,"f910":-0.85},
{"t":0.0405,"f110":0.08,"f910":0.75},
{"t":0.041,"f110":0.12,"f910":-0.3},
{"t":0.0415,"f110":0.15,"f910":0.4},
{"t":0.042,"f110":0.18,"f910":-1.2},
{"t":0.0425,"f110":0.2,"f910":0.5},
{"t":0.043,"f110":0.18,"f910":-0.6},
{"t":0.0435,"f110":0.12,"f910":0.6},
{"t":0.044,"f110":0.08,"f910":-0.9},
{"t":0.0445,"f110":0.05,"f910":0.4},
{"t":0.045,"f110":0,"f910":-0.5},
{"t":0.0455,"f110":-0.08,"f910":0.8},
{"t":0.046,"f110":-0.15,"f910":-0.7},
{"t":0.0465,"f110":-0.2,"f910":0.3},
{"t":0.047,"f110":-0.25,"f910":-0.3},
{"t":0.0475,"f110":-0.2,"f910":0.55},
{"t":0.048,"f110":-0.12,"f910":-0.2},
{"t":0.0485,"f110":-0.1,"f910":0.5},
{"t":0.049,"f110":-0.12,"f910":-0.45},
{"t":0.0495,"f110":-0.05,"f910":0.3},
{"t":0.05,"f110":0.05,"f910":-0.1}
],
"F": [
{"t":0,"f110":-0.05,"f340":0,"f910":0},
{"t":0.0005,"f110":-0.1,"f340":-1,"f910":1.2},
{"t":0.001,"f110":-0.05,"f340":-1.8,"f910":-0.8},
{"t":0.0015,"f110":-0.15,"f340":0.5,"f910":1.6},
{"t":0.002,"f110":-0.1,"f340":2.3,"f910":-1.2},
{"t":0.0025,"f110":-0.15,"f340":1,"f910":1},
{"t":0.003,"f110":-0.05,"f340":-1,"f910":-1.5},
{"t":0.0035,"f110":-0.1,"f340":-1.5,"f910":1.3},
{"t":0.004,"f110":0,"f340":0.5,"f910":-1},
{"t":0.0045,"f110":0.05,"f340":2,"f910":1.5},
{"t":0.005,"f110":0.1,"f340":1,"f910":-1.3},
{"t":0.0055,"f110":0,"f340":-1.5,"f910":1.1},
{"t":0.006,"f110":0.1,"f340":-3,"f910":-1.6},
{"t":0.0065,"f110":0.2,"f340":-1,"f910":1.6},
{"t":0.007,"f110":0.15,"f340":1.5,"f910":-0.9},
{"t":0.0075,"f110":0.05,"f340":1.8,"f910":1.2},
{"t":0.008,"f110":0.1,"f340":-0.5,"f910":-1.4},
{"t":0.0085,"f110":0,"f340":-2,"f910":1.5},
{"t":0.009,"f110":-0.05,"f340":-1,"f910":-1},
{"t":0.0095,"f110":0,"f340":1,"f910":1.3},
{"t":0.01,"f110":0.05,"f340":2,"f910":-1.5},
{"t":0.0105,"f110":-0.05,"f340":0,"f910":1.1},
{"t":0.011,"f110":0,"f340":-2,"f910":-1.2},
{"t":0.0115,"f110":0.1,"f340":-2.1,"f910":1.4},
{"t":0.012,"f110":0,"f340":0.5,"f910":-0.8},
{"t":0.0125,"f110":-0.05,"f340":1.9,"f910":1.2},
{"t":0.013,"f110":0.05,"f340":1.2,"f910":-1.4},
{"t":0.0135,"f110":0,"f340":-1,"f910":1},
{"t":0.014,"f110":0.1,"f340":-2.5,"f910":-1.1},
{"t":0.0145,"f110":0.2,"f340":1,"f910":1.5},
{"t":0.015,"f110":0.05,"f340":2.4,"f910":-1.3},
{"t":0.0155,"f110":0.1,"f340":1.5,"f910":0.9},
{"t":0.016,"f110":0.15,"f340":-3.3,"f910":-1},
{"t":0.0165,"f110":0.05,"f340":5.5,"f910":1.3},
{"t":0.017,"f110":0,"f340":2,"f910":-1.5},
{"t":0.0175,"f110":-0.1,"f340":-2,"f910":1.1},
{"t":0.018,"f110":-0.05,"f340":-3.4,"f910":-0.9},
{"t":0.0185,"f110":-0.15,"f340":-1,"f910":1.4},
{"t":0.019,"f110":-0.25,"f340":-5.5,"f910":-1.2},
{"t":0.0195,"f110":-0.1,"f340":-3.8,"f910":1},
{"t":0.02,"f110":0,"f340":-5.5,"f910":-1.4},
{"t":0.0205,"f110":0.05,"f340":1.5,"f910":1.2},
{"t":0.021,"f110":0,"f340":1,"f910":-0.8},
{"t":0.0215,"f110":0.1,"f340":-3,"f910":1.5},
{"t":0.022,"f110":0.15,"f340":-5.5,"f910":-1.1},
{"t":0.0225,"f110":0.1,"f340":0.5,"f910":1},
{"t":0.023,"f110":0,"f340":1.7,"f910":-1.3},
{"t":0.0235,"f110":0.1,"f340":-1,"f910":1.4},
{"t":0.024,"f110":0.05,"f340":-5.5,"f910":-0.9},
{"t":0.0245,"f110":0.3,"f340":-4,"f910":1.2},
{"t":0.025,"f110":0.1,"f340":-5.5,"f910":-1.2},
{"t":0.0255,"f110":-0.05,"f340":0,"f910":1},
{"t":0.026,"f110":0,"f340":4,"f910":-1.5},
{"t":0.0265,"f110":-0.1,"f340":0.5,"f910":1.3},
{"t":0.027,"f110":-0.05,"f340":-2.5,"f910":-0.8},
{"t":0.0275,"f110":-0.1,"f340":-5.5,"f910":1.1},
{"t":0.028,"f110":0,"f340":-5.5,"f910":-1},
{"t":0.0285,"f110":0.05,"f910":1.2},
{"t":0.029,"f110":0.1,"f910":-1.3},
{"t":0.0295,"f110":0.15,"f910":0.9},
{"t":0.03,"f110":0.2,"f910":-0.8},
{"t":0.0305,"f110":0.25,"f910":1},
{"t":0.031,"f110":0.15,"f910":-1.1},
{"t":0.0315,"f110":0.3,"f910":1.2},
{"t":0.032,"f110":0.2,"f910":-0.9},
{"t":0.0325,"f110":0,"f910":0.8},
{"t":0.033,"f110":0.1,"f910":-1.2},
{"t":0.0335,"f110":0.4,"f910":1},
{"t":0.034,"f110":0.1,"f910":-0.7},
{"t":0.0345,"f110":0,"f910":1.1},
{"t":0.035,"f110":0.05,"f910":-1},
{"t":0.0355,"f110":-0.05,"f910":0.9},
{"t":0.036,"f110":0,"f910":-1.3},
{"t":0.0365,"f110":0.1,"f910":0.8},
{"t":0.037,"f110":0.15,"f910":-0.9},
{"t":0.0375,"f110":0.1,"f910":1.1},
{"t":0.038,"f110":0.2,"f910":-1.2},
{"t":0.0385,"f110":0.15,"f910":1},
{"t":0.039,"f110":0.25,"f910":-0.8},
{"t":0.0395,"f110":0.2,"f910":1.2},
{"t":0.04,"f110":0.15,"f910":-1.5},
{"t":0.0405,"f110":0.2,"f910":0.9},
{"t":0.041,"f110":0.1,"f910":-1},
{"t":0.0415,"f110":0.2,"f910":1},
{"t":0.042,"f110":0.4,"f910":-3.2},
{"t":0.0425,"f110":0.15,"f910":0.5},
{"t":0.043,"f110":0.1,"f910":-1.8},
{"t":0.0435,"f110":-0.05,"f910":1.2},
{"t":0.044,"f110":-0.1,"f910":2.1},
{"t":0.0445,"f110":-0.05,"f910":-1},
{"t":0.045,"f110":0,"f910":1},
{"t":0.0455,"f110":0.05,"f910":-2.3},
{"t":0.046,"f110":0.1,"f910":0.8},
{"t":0.0465,"f110":0.2,"f910":-1.2},
{"t":0.047,"f110":0.25,"f910":1},
{"t":0.0475,"f110":0.3,"f910":-1.5},
{"t":0.048,"f110":0.35,"f910":1.1},
{"t":0.0485,"f110":0.4,"f910":-1},
{"t":0.049,"f110":0.4,"f910":-2.8},
{"t":0.0495,"f110":0.5,"f910":0.5},
{"t":0.05,"f110":0.55,"f910":-0.5}
]
},
"columns": 1,
"align": "none",
"bounds": "full",
"spacing": 26,
"resolve": {"scale": {"x": "independent", "y": "independent", "color": "independent", "strokeDash": "independent", "strokeWidth": "independent"}, "legend": {"color": "independent", "strokeDash": "independent", "strokeWidth": "independent"}, "axis": {"x": "independent", "y": "independent"}},
"concat": [
{
 "hconcat": [
  {"width": 7, "height": 145, "data": {"values": []}, "mark": {"type": "point", "opacity": 0}, "encoding": {}},
  {
   "hconcat": [
    {
     "width": 180, "height": 145,
     "title": {"text": "E₁ = 30MPa, E₂ = 60MPa", "dx": 3},
     "encoding": {
       "x": {"field": "t", "type": "quantitative", "title": "Time (us)", "scale": {"domain": [0, 0.05], "nice": false, "zero": false}, "axis": {"values": [0, 0.01, 0.02, 0.03, 0.04, 0.05], "format": ".2f"}},
       "y": {"field": "v", "type": "quantitative", "title": "Deflection (nm)", "scale": {"domain": [-2, 2], "nice": false}, "axis": {"values": [-2, -1, 0, 1, 2], "format": "d", "labelExpr": "replace(datum.label, '−', '-')", "titlePadding": 5}}
     },
     "layer": [
      {"data": {"name": "A"}, "transform": [{"fold": ["f910", "f340", "f110"], "as": ["k", "v"]}],
       "mark": {"type": "line", "clip": true},
       "encoding": {
         "color": {"field": "k", "type": "nominal", "scale": {"domain": ["f110", "f340", "f910"], "range": ["#444444", "#4466ff", "#ff3030"]}, "legend": {"title": null, "offset": 0, "symbolOffset": 11, "labelExpr": "replace(datum.label, 'f', '') + ' MHZ'"}},
         "strokeDash": {"field": "k", "type": "nominal", "scale": {"domain": ["f110", "f340", "f910"], "range": [[1, 0], [1.5, 1.5], [6, 2, 2, 2]]}, "legend": {"title": null, "offset": 0, "symbolOffset": 11, "labelExpr": "replace(datum.label, 'f', '') + ' MHZ'"}},
         "strokeWidth": {"field": "k", "type": "nominal", "scale": {"domain": ["f110", "f340", "f910"], "range": [1.6, 1.2, 1.2]}, "legend": {"title": null, "offset": 0, "symbolOffset": 11, "labelExpr": "replace(datum.label, 'f', '') + ' MHZ'"}}
       }},
      {"data": {"name": "trend"}, "transform": [{"filter": "datum.p == 'A'"}], "mark": {"type": "line", "color": "#111", "strokeDash": [6, 3], "strokeWidth": 1.8}, "encoding": {}},
      {"data": {"name": "notes"}, "transform": [{"filter": "datum.p == 'A'"}], "mark": {"type": "text", "font": "Liberation Serif", "fontWeight": "bold", "fontSize": 11.5, "color": "#000"}, "encoding": {"text": {"field": "label"}}}
     ]
    },
    {
     "width": 180, "height": 145,
     "title": {"text": "E₁ = 30MPa, E₂ = 30MPa", "dx": -12},
     "encoding": {
       "x": {"field": "t", "type": "quantitative", "title": "Time (us)", "scale": {"domain": [0, 0.05], "nice": false, "zero": false}, "axis": {"values": [0, 0.01, 0.02, 0.03, 0.04, 0.05], "format": ".2f"}},
       "y": {"field": "v", "type": "quantitative", "title": "Deflection (nm)", "scale": {"domain": [-15, 15], "nice": false}, "axis": {"values": [-15, -10, -5, 0, 5, 10, 15], "format": "d", "labelExpr": "replace(datum.label, '−', '-')", "titlePadding": 8}}
     },
     "layer": [
      {"data": {"name": "B"}, "transform": [{"fold": ["f910", "f340", "f110"], "as": ["k", "v"]}],
       "mark": {"type": "line", "clip": true},
       "encoding": {
         "color": {"field": "k", "type": "nominal", "scale": {"domain": ["f110", "f340", "f910"], "range": ["#111111", "#5070ff", "#ff3838"]}, "legend": {"title": null, "offset": 0, "symbolOffset": 9, "labelExpr": "replace(datum.label, 'f', '') + ' MHZ'"}},
         "strokeDash": {"field": "k", "type": "nominal", "scale": {"domain": ["f110", "f340", "f910"], "range": [[1, 0], [1.5, 1.5], [6, 2, 2, 2]]}, "legend": {"title": null, "offset": 0, "symbolOffset": 9, "labelExpr": "replace(datum.label, 'f', '') + ' MHZ'"}},
         "strokeWidth": {"field": "k", "type": "nominal", "scale": {"domain": ["f110", "f340", "f910"], "range": [2, 1.2, 1.2]}, "legend": {"title": null, "offset": 0, "symbolOffset": 9, "labelExpr": "replace(datum.label, 'f', '') + ' MHZ'"}}
       }},
      {"data": {"name": "trend"}, "transform": [{"filter": "datum.p == 'B'"}], "mark": {"type": "line", "color": "#111", "strokeDash": [6, 3], "strokeWidth": 1.8}, "encoding": {}},
      {"data": {"name": "notes"}, "transform": [{"filter": "datum.p == 'B'"}], "mark": {"type": "text", "font": "Liberation Serif", "fontWeight": "bold", "fontSize": 11.5, "color": "#000"}, "encoding": {"text": {"field": "label"}}}
     ]
    },
    {
     "width": 180, "height": 145,
     "title": {"text": "E₁ = 60MPa, E₂ = 30MPa", "dx": -10},
     "encoding": {
       "x": {"field": "t", "type": "quantitative", "title": "Time (us)", "scale": {"domain": [0, 0.05], "nice": false, "zero": false}, "axis": {"values": [0, 0.01, 0.02, 0.03, 0.04, 0.05], "format": ".2f"}},
       "y": {"field": "v", "type": "quantitative", "title": "Deflection (nm)", "scale": {"domain": [-15, 15], "nice": false}, "axis": {"values": [-15, -10, -5, 0, 5, 10, 15], "format": "d", "labelExpr": "replace(datum.label, '−', '-')", "titlePadding": 7}}
     },
     "layer": [
      {"data": {"name": "C"}, "transform": [{"fold": ["f910", "f340", "f110"], "as": ["k", "v"]}],
       "mark": {"type": "line", "clip": true},
       "encoding": {
         "color": {"field": "k", "type": "nominal", "scale": {"domain": ["f110", "f340", "f910"], "range": ["#111111", "#3050ff", "#ff2020"]}, "legend": {"title": null, "offset": 0, "symbolOffset": 14, "labelExpr": "replace(datum.label, 'f', '') + ' MHZ'"}},
         "strokeDash": {"field": "k", "type": "nominal", "scale": {"domain": ["f110", "f340", "f910"], "range": [[1, 0], [1.5, 1.5], [6, 2, 2, 2]]}, "legend": {"title": null, "offset": 0, "symbolOffset": 14, "labelExpr": "replace(datum.label, 'f', '') + ' MHZ'"}},
         "strokeWidth": {"field": "k", "type": "nominal", "scale": {"domain": ["f110", "f340", "f910"], "range": [2, 1.2, 1.2]}, "legend": {"title": null, "offset": 0, "symbolOffset": 14, "labelExpr": "replace(datum.label, 'f', '') + ' MHZ'"}}
       }},
      {"data": {"name": "trend"}, "transform": [{"filter": "datum.p == 'C'"}], "mark": {"type": "line", "color": "#111", "strokeDash": [6, 3], "strokeWidth": 1.8}, "encoding": {}},
      {"data": {"name": "notes"}, "transform": [{"filter": "datum.p == 'C'"}], "mark": {"type": "text", "font": "Liberation Serif", "fontWeight": "bold", "fontSize": 11.5, "color": "#000"}, "encoding": {"text": {"field": "label"}}}
     ]
    }
   ],
   "spacing": 66,
   "bounds": "flush",
   "resolve": {"scale": {"x": "independent", "y": "independent", "color": "independent", "strokeDash": "independent", "strokeWidth": "independent"}, "legend": {"color": "independent", "strokeDash": "independent", "strokeWidth": "independent"}, "axis": {"x": "independent", "y": "independent"}}
  }
 ],
 "spacing": 0,
 "bounds": "flush",
 "resolve": {"scale": {"x": "independent", "y": "independent", "color": "independent", "strokeDash": "independent", "strokeWidth": "independent"}, "legend": {"color": "independent", "strokeDash": "independent", "strokeWidth": "independent"}, "axis": {"x": "independent", "y": "independent"}}
},
{
 "hconcat": [
  {
   "width": 179, "height": 145,
   "encoding": {
     "x": {"field": "t", "type": "quantitative", "title": "Time (us)", "scale": {"domain": [0, 0.05], "nice": false, "zero": false}, "axis": {"values": [0, 0.01, 0.02, 0.03, 0.04, 0.05], "format": ".2f"}},
     "y": {"field": "v", "type": "quantitative", "title": "Deflection (nm)", "scale": {"domain": [-2, 2], "nice": false}, "axis": {"values": [-2, -1, 0, 1, 2], "format": "d", "labelExpr": "replace(datum.label, '−', '-')", "titlePadding": 6.5}}
   },
   "layer": [
    {"data": {"name": "D"}, "transform": [{"fold": ["f340", "f910", "f110"], "as": ["k", "v"]}],
     "mark": {"type": "line", "clip": true},
     "encoding": {
       "color": {"field": "k", "type": "nominal", "scale": {"domain": ["f110", "f340", "f910"], "range": ["#111111", "#a0a0f0", "#ff4040"]}, "legend": {"title": null, "offset": -1, "symbolOffset": 10, "labelExpr": "replace(datum.label, 'f', '') + ' MHZ'"}},
       "strokeDash": {"field": "k", "type": "nominal", "scale": {"domain": ["f110", "f340", "f910"], "range": [[1, 0], [1.5, 1.5], [6, 2, 2, 2]]}, "legend": {"title": null, "offset": -1, "symbolOffset": 10, "labelExpr": "replace(datum.label, 'f', '') + ' MHZ'"}},
       "strokeWidth": {"field": "k", "type": "nominal", "scale": {"domain": ["f110", "f340", "f910"], "range": [2, 1, 1.2]}, "legend": {"title": null, "offset": -1, "symbolOffset": 10, "labelExpr": "replace(datum.label, 'f', '') + ' MHZ'"}}
     }},
    {"data": {"name": "notes"}, "transform": [{"filter": "datum.p == 'D'"}], "mark": {"type": "text", "font": "Liberation Serif", "fontWeight": "bold", "fontSize": 11.5, "color": "#000"}, "encoding": {"text": {"field": "label"}}}
   ]
  },
  {
   "width": 180, "height": 145,
   "encoding": {
     "x": {"field": "t", "type": "quantitative", "title": "Time (us)", "scale": {"domain": [0, 0.05], "nice": false, "zero": false}, "axis": {"values": [0, 0.01, 0.02, 0.03, 0.04, 0.05], "format": ".2f"}},
     "y": {"field": "v", "type": "quantitative", "title": "Deflection (nm)", "scale": {"domain": [-2, 2], "nice": false}, "axis": {"values": [-2, -1, 0, 1, 2], "format": "d", "labelExpr": "replace(datum.label, '−', '-')", "titlePadding": 7}}
   },
   "layer": [
    {"data": {"name": "E"}, "transform": [{"fold": ["f340", "f910", "f110"], "as": ["k", "v"]}],
     "mark": {"type": "line", "clip": true},
     "encoding": {
       "color": {"field": "k", "type": "nominal", "scale": {"domain": ["f110", "f340", "f910"], "range": ["#111111", "#2040ff", "#ee1111"]}, "legend": {"title": null, "offset": 0, "symbolOffset": 10, "labelExpr": "replace(datum.label, 'f', '') + ' MHZ'"}},
       "strokeDash": {"field": "k", "type": "nominal", "scale": {"domain": ["f110", "f340", "f910"], "range": [[1, 0], [1.5, 1.5], [6, 2, 2, 2]]}, "legend": {"title": null, "offset": 0, "symbolOffset": 10, "labelExpr": "replace(datum.label, 'f', '') + ' MHZ'"}},
       "strokeWidth": {"field": "k", "type": "nominal", "scale": {"domain": ["f110", "f340", "f910"], "range": [2, 1.4, 1.6]}, "legend": {"title": null, "offset": 0, "symbolOffset": 10, "labelExpr": "replace(datum.label, 'f', '') + ' MHZ'"}}
     }},
    {"data": {"name": "notes"}, "transform": [{"filter": "datum.p == 'E'"}], "mark": {"type": "text", "font": "Liberation Serif", "fontWeight": "bold", "fontSize": 11.5, "color": "#000"}, "encoding": {"text": {"field": "label"}}}
   ]
  },
  {
   "width": 180, "height": 145,
   "encoding": {
     "x": {"field": "t", "type": "quantitative", "title": "Time (us)", "scale": {"domain": [0, 0.05], "nice": false, "zero": false}, "axis": {"values": [0, 0.01, 0.02, 0.03, 0.04, 0.05], "format": ".2f"}},
     "y": {"field": "v", "type": "quantitative", "title": "Deflection (nm)", "scale": {"domain": [-5, 5], "nice": false}, "axis": {"values": [-5, -2.5, 0, 2.5, 5], "format": ".1f", "labelExpr": "replace(datum.label, '−', '-')", "titlePadding": 4}}
   },
   "layer": [
    {"data": {"name": "F"}, "transform": [{"fold": ["f340", "f910", "f110"], "as": ["k", "v"]}],
     "mark": {"type": "line", "clip": true},
     "encoding": {
       "color": {"field": "k", "type": "nominal", "scale": {"domain": ["f110", "f340", "f910"], "range": ["#111111", "#7080ff", "#ff4040"]}, "legend": {"title": null, "offset": -2, "symbolOffset": 12, "labelExpr": "replace(datum.label, 'f', '') + ' MHZ'"}},
       "strokeDash": {"field": "k", "type": "nominal", "scale": {"domain": ["f110", "f340", "f910"], "range": [[1, 0], [1.5, 1.5], [6, 2, 2, 2]]}, "legend": {"title": null, "offset": -2, "symbolOffset": 12, "labelExpr": "replace(datum.label, 'f', '') + ' MHZ'"}},
       "strokeWidth": {"field": "k", "type": "nominal", "scale": {"domain": ["f110", "f340", "f910"], "range": [2, 1.2, 1.2]}, "legend": {"title": null, "offset": -2, "symbolOffset": 12, "labelExpr": "replace(datum.label, 'f', '') + ' MHZ'"}}
     }},
    {"data": {"name": "notes"}, "transform": [{"filter": "datum.p == 'F'"}], "mark": {"type": "text", "font": "Liberation Serif", "fontWeight": "bold", "fontSize": 11.5, "color": "#000"}, "encoding": {"text": {"field": "label"}}}
   ]
  }
 ],
 "spacing": 70,
 "bounds": "flush",
 "resolve": {"scale": {"x": "independent", "y": "independent", "color": "independent", "strokeDash": "independent", "strokeWidth": "independent"}, "legend": {"color": "independent", "strokeDash": "independent", "strokeWidth": "independent"}, "axis": {"x": "independent", "y": "independent"}}
}
]
}
